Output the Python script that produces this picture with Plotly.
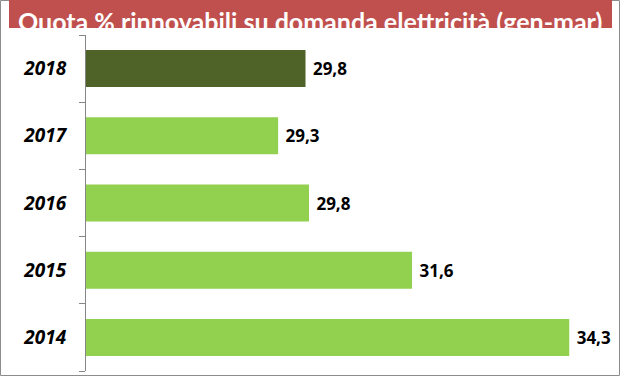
import plotly.graph_objects as go

years = ["2014", "2015", "2016", "2017", "2018"]
values = [34.3, 31.6, 29.83, 29.3, 29.77]
colors = ["#92D050", "#92D050", "#92D050", "#92D050", "#4F6228"]
title_text = "Quota % rinnovabili su domanda elettricità (gen-mar)"

W, H = 621, 377
L, R, T, B = 86, 11, 35, 6
pw, ph = W - L - R, H - T - B

def px_x(p):
    return (p - L) / pw

def px_y(p):
    return (H - B - p) / ph

labels = [" " + f"{v:.1f}".replace(".", ",") for v in values]

fig = go.Figure(go.Bar(
    y=years, x=values, orientation="h",
    marker=dict(color=colors, line=dict(width=0)),
    width=0.55,
    text=labels, textposition="outside",
    textfont=dict(family="Open Sans", size=17, color="#000000", weight="bold"),
    cliponaxis=False,
    hoverinfo="skip",
))

fig.update_layout(
    width=W, height=H,
    margin=dict(l=L, r=R, t=T, b=B, autoexpand=False),
    paper_bgcolor="white", plot_bgcolor="white",
    showlegend=False,
    bargap=0.45,
    xaxis=dict(range=[26, 35], visible=False, showgrid=False, zeroline=False,
               automargin=False),
    yaxis=dict(
        type="category", categoryorder="array", categoryarray=years,
        showline=True, linecolor="#868686", linewidth=1,
        ticks="outside", ticklen=6, tickcolor="#868686", tickson="boundaries",
        tickfont=dict(family="Open Sans", size=19, color="#000000", weight="bold", style="italic"),
        showgrid=False, zeroline=False, ticklabelstandoff=15, automargin=False,
    ),
    shapes=[
        dict(type="rect", xref="paper", yref="paper",
             x0=px_x(0.5), x1=px_x(W - 1.5), y0=px_y(H - 1.5), y1=px_y(0.5),
             line=dict(color="#8C8C8C", width=1), fillcolor="rgba(0,0,0,0)", layer="below"),
        dict(type="rect", xref="paper", yref="paper",
             x0=px_x(9), x1=px_x(612), y0=px_y(28), y1=px_y(0),
             line=dict(width=0), fillcolor="#C0504D", layer="above"),
    ],
    annotations=[
        dict(text=title_text, xref="paper", yref="paper",
             x=px_x(310), y=px_y(21), xanchor="center", yanchor="middle",
             showarrow=False,
             font=dict(family="Lato", size=25, color="white", weight="bold")),
    ],
)

fig.write_html("out.html",
               config={"displayModeBar": False},
               post_script="document.body.style.margin='0';document.body.style.padding='0';")
